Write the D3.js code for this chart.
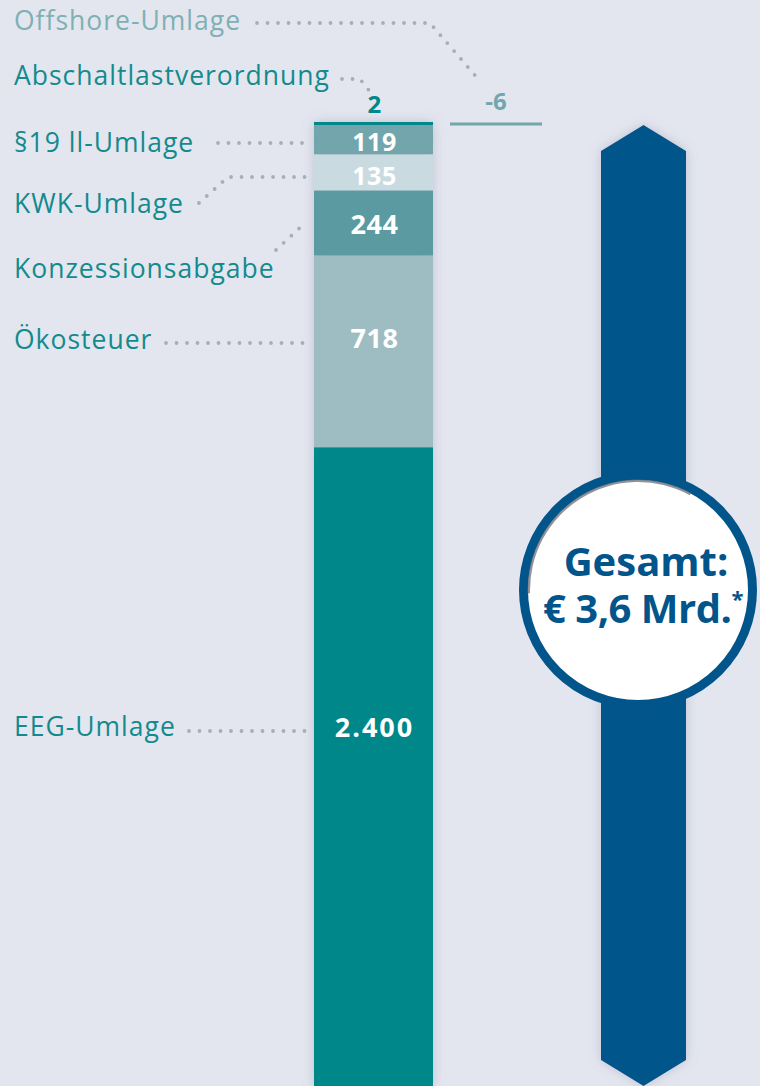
<!DOCTYPE html>
<html>
<head>
<meta charset="utf-8">
<script src="https://cdn.jsdelivr.net/npm/d3@7"></script>
<style>
  html, body { margin: 0; padding: 0; background: #e3e6ef; }
  svg { display: block; }
</style>
</head>
<body>
<script>
// Werte in Mio. Euro, von unten nach oben gestapelt
const categories = ["EEG-Umlage", "Ökosteuer", "Konzessionsabgabe", "KWK-Umlage", "§19 ll-Umlage", "Abschaltlastverordnung"];
const values = [2400, 718, 244, 135, 119, 2];
const valueLabels = ["2.400", "718", "244", "135", "119", "2"];
const offshoreLabel = "Offshore-Umlage";
const offshoreValue = -6;
const totalLabel = ["Gesamt:", "€ 3,6 Mrd."];

const colors = ["#00878a", "#9dbdc2", "#5a9aa0", "#c9dbe0", "#72a6ac", "#00878a"];

const width = 760, height = 1086;

// Layout der Beschriftungen (Textposition + Punktlinie), je Kategorie
const layout = {
  "EEG-Umlage":            {ly: 736, vy: 737, dots: [[189, 731], [306, 731]]},
  "Ökosteuer":             {ly: 349, vy: 348, dots: [[166, 343], [306, 343]]},
  "Konzessionsabgabe":     {ly: 278, vy: 234, dots: [[276, 250], [306, 222]]},
  "KWK-Umlage":            {ly: 213, vy: 185, dots: [[199, 203], [228, 177], [312, 177]]},
  "§19 ll-Umlage":         {ly: 152, vy: 151, dots: [[218, 143], [306, 143]]},
  "Abschaltlastverordnung":{ly: 85,  vy: 113, dots: [[342, 79], [360, 79], [371, 93]]}
};

const svg = d3.select("body").append("svg")
  .attr("width", width)
  .attr("height", height);

const defs = svg.append("defs");
const shadow = defs.append("filter").attr("id", "shadow")
  .attr("x", "-30%").attr("y", "-5%").attr("width", "160%").attr("height", "110%");
shadow.append("feDropShadow")
  .attr("dx", 0).attr("dy", 0).attr("stdDeviation", 6)
  .attr("flood-color", "#7d8297").attr("flood-opacity", 0.35);

// Stapel
let acc = 0;
const stack = values.map((v, i) => {
  const d = {cat: categories[i], value: v, label: valueLabels[i], color: colors[i], y0: acc, y1: acc + v};
  acc += v;
  return d;
});
const total = acc;

const y = d3.scaleLinear().domain([0, total]).range([1088, 122]);
const barX = 314, barW = 119;

const bar = svg.append("g").attr("filter", "url(#shadow)");
bar.selectAll("rect")
  .data(stack)
  .enter()
  .append("rect")
  .attr("x", barX)
  .attr("width", barW)
  .attr("y", d => y(d.y1))
  .attr("height", d => Math.max(3, y(d.y0) - y(d.y1)))
  .attr("fill", d => d.color);

// Offshore-Umlage (negativ): dünne Linie neben dem Stapel
svg.append("rect")
  .attr("x", 450)
  .attr("width", 92)
  .attr("y", y(total) + 0.5)
  .attr("height", Math.max(3, y(total + offshoreValue) - y(total)))
  .attr("fill", "#72a6ac");

svg.append("text")
  .attr("x", 496).attr("y", 110)
  .attr("text-anchor", "middle")
  .attr("font-family", "'Open Sans', sans-serif")
  .attr("font-weight", 700)
  .attr("font-size", 24)
  .attr("fill", "#72a6ac")
  .text(String(offshoreValue));

// Punktlinien
const line = d3.line();
const dotted = (g, pts) => g.append("path")
  .attr("d", line(pts))
  .attr("fill", "none")
  .attr("stroke", "#a9adb7")
  .attr("stroke-width", 3.8)
  .attr("stroke-linecap", "round")
  .attr("stroke-dasharray", "0 10.5");

const leaders = svg.append("g");
dotted(leaders, [[257, 23], [430, 23], [479, 80]]);
stack.forEach(d => dotted(leaders, layout[d.cat].dots));

// Kategorien links
const labels = svg.append("g")
  .attr("font-family", "'Open Sans', sans-serif")
  .attr("font-size", 26.5)
  .attr("letter-spacing", 1);

labels.append("text")
  .attr("x", 14).attr("y", 30)
  .attr("fill", "#7eb0b4")
  .text(offshoreLabel);

labels.selectAll("text.cat")
  .data(stack)
  .enter()
  .append("text")
  .attr("class", "cat")
  .attr("x", 14)
  .attr("y", d => layout[d.cat].ly)
  .attr("fill", "#138a8e")
  .text(d => d.cat);

// Werte im Balken
svg.append("g")
  .selectAll("text")
  .data(stack)
  .enter()
  .append("text")
  .attr("x", barX + barW / 2 + 1)
  .attr("y", d => layout[d.cat].vy)
  .attr("text-anchor", "middle")
  .attr("font-family", "'Open Sans', sans-serif")
  .attr("font-weight", 700)
  .attr("font-size", d => d.value < 10 ? 24 : (d.value < 200 ? 25 : 27))
  .attr("letter-spacing", d => d.value > 1000 ? 2 : 0.5)
  .attr("fill", d => d.value < 10 ? "#00878a" : "#ffffff")
  .text(d => d.label);

// Gesamt-Pfeil
const ax0 = 601, ax1 = 686, amid = (ax0 + ax1) / 2, tip = 26;
const arrowTop = y(total) + 3, arrowBottom = y(0) - 2;
svg.append("path")
  .attr("d", `M${ax0},${arrowTop + tip} L${amid},${arrowTop} L${ax1},${arrowTop + tip}
              L${ax1},${arrowBottom - tip} L${amid},${arrowBottom} L${ax0},${arrowBottom - tip} Z`)
  .attr("fill", "#02558b")
  .attr("filter", "url(#shadow)");

const cx = 638, cy = 590;
svg.append("circle")
  .attr("cx", cx).attr("cy", cy).attr("r", 114.5)
  .attr("fill", "#ffffff")
  .attr("stroke", "#02558b")
  .attr("stroke-width", 9);
svg.append("path")
  .attr("d", d3.arc()({innerRadius: 108, outerRadius: 110.5, startAngle: -1.6, endAngle: 0.5}))
  .attr("transform", `translate(${cx},${cy})`)
  .attr("fill", "#6d6f76")
  .attr("opacity", 0.75);

const tot = svg.append("g")
  .attr("text-anchor", "middle")
  .attr("font-family", "'Open Sans', sans-serif")
  .attr("font-weight", 700)
  .attr("font-size", 40)
  .attr("fill", "#02558b");
tot.append("text").attr("x", 646).attr("y", 576).text(totalLabel[0]);
const l2 = tot.append("text").attr("x", 643).attr("y", 623).attr("letter-spacing", -0.5).text(totalLabel[1]);
l2.append("tspan").attr("font-size", 22).attr("dy", -16).text("*");
</script>
</body>
</html>
